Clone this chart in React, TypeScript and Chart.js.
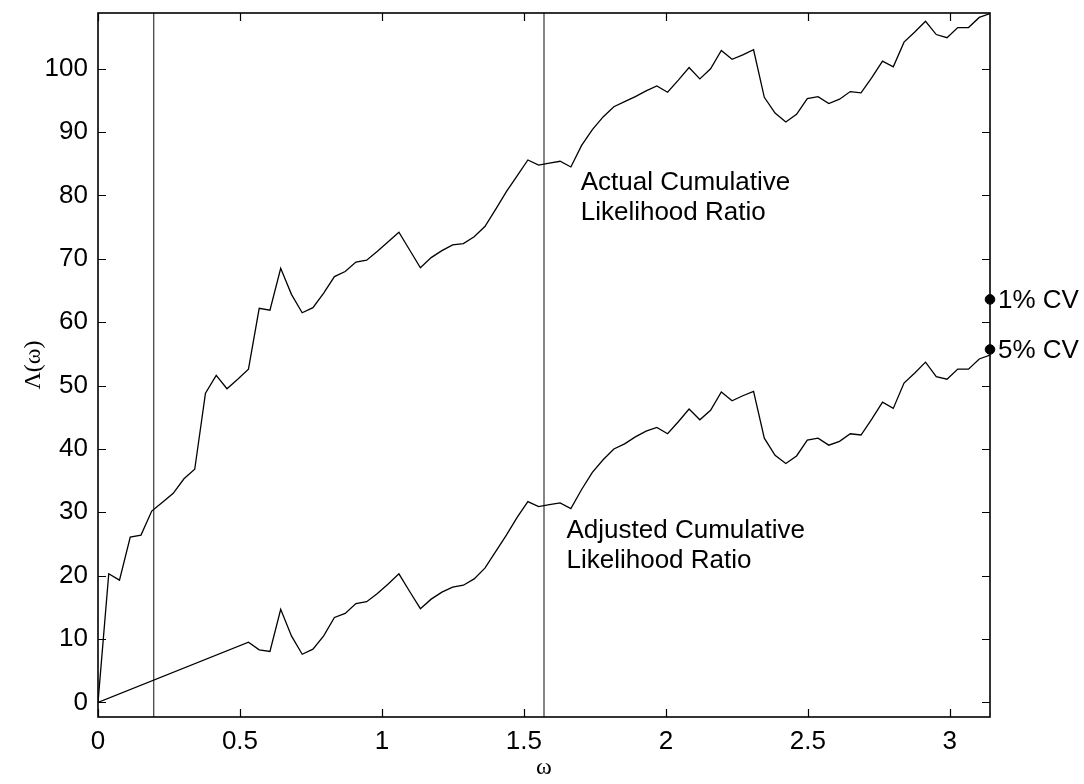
import React, { useEffect, useRef } from "react";
import { Chart, registerables } from "chart.js";

Chart.register(...registerables);

// Frequency grid: omega_k = k * pi / N_STEPS, k = 0..N_STEPS
const N_STEPS = 83;

// Actual cumulative likelihood ratio (k = 0..83)
const actualCLR: number[] = [
  0, 20.3, 19.3, 26.1, 26.4, 30.2, 31.6, 33.0, 35.3, 36.8,
  48.8, 51.6, 49.5, 51.0, 52.6, 62.2, 61.9, 68.5, 64.4, 61.5,
  62.3, 64.6, 67.2, 68.0, 69.5, 69.8, 71.2, 72.7, 74.2, 71.4,
  68.6, 70.2, 71.3, 72.2, 72.4, 73.5, 75.1, 77.8, 80.6, 83.1,
  85.6, 84.8, 85.1, 85.4, 84.5, 87.9, 90.4, 92.4, 94.0, 94.8,
  95.6, 96.5, 97.3, 96.3, 98.2, 100.2, 98.4, 100.0, 102.9, 101.5,
  102.2, 103.0, 95.5, 93.0, 91.6, 92.8, 95.3, 95.6, 94.5, 95.2,
  96.4, 96.2, 98.6, 101.2, 100.3, 104.2, 105.8, 107.5, 105.4, 104.9,
  106.5, 106.5, 108.1, 108.7,
];

// Adjusted cumulative likelihood ratio (k = 0, then k = 14..83)
const adjustedCLR: (number | null)[] = [
  0, null, null, null, null, null, null, null, null, null,
  null, null, null, null, 9.5, 8.3, 8.05, 14.7, 10.5, 7.6,
  8.4, 10.5, 13.4, 14.05, 15.6, 15.9, 17.2, 18.7, 20.3, 17.5,
  14.8, 16.3, 17.4, 18.2, 18.5, 19.5, 21.2, 23.8, 26.4, 29.2,
  31.7, 30.9, 31.2, 31.5, 30.6, 33.6, 36.3, 38.3, 40.0, 40.8,
  41.9, 42.8, 43.4, 42.4, 44.3, 46.3, 44.6, 46.1, 49.0, 47.6,
  48.4, 49.1, 41.7, 39.0, 37.7, 38.9, 41.4, 41.7, 40.6, 41.2,
  42.4, 42.2, 44.7, 47.4, 46.4, 50.4, 52.0, 53.7, 51.4, 51.0,
  52.6, 52.6, 54.2, 54.8,
];

const thresholdLines: number[] = [Math.PI / 16, Math.PI / 2];
const cvValues: number[] = [63.6, 55.7];
const cvLabels: string[] = ["1% CV", "5% CV"];

const xTicks: number[] = [0, 0.5, 1, 1.5, 2, 2.5, 3];
const yTicks: number[] = [0, 10, 20, 30, 40, 50, 60, 70, 80, 90, 100];

const X_MIN = 0;
const X_MAX = Math.PI;
const Y_MIN = -2.3;
const Y_MAX = 108.8;

const annotationLines: string[][] = [
  ["Actual Cumulative", "Likelihood Ratio"],
  ["Adjusted Cumulative", "Likelihood Ratio"],
];
const annotationX: number[] = [1.7, 1.65];
const annotationY: number[] = [80.8, 25.9];

const SANS = '"Liberation Sans", Arial, Helvetica, sans-serif';
const SERIF = '"Liberation Serif", "Times New Roman", serif';

const framePlugin = {
  id: "frameTicks",
  afterDraw(chart: any) {
    const { ctx, chartArea, scales } = chart;
    const { left, right, top, bottom } = chartArea;
    const x = scales.x;
    const y = scales.y;
    ctx.save();
    ctx.strokeStyle = "#000";
    ctx.lineWidth = 1.2;
    ctx.beginPath();
    xTicks.forEach((v) => {
      const px = Math.round(x.getPixelForValue(v)) + 0.5;
      ctx.moveTo(px, bottom);
      ctx.lineTo(px, bottom - 8);
      ctx.moveTo(px, top);
      ctx.lineTo(px, top + 8);
    });
    yTicks.forEach((v) => {
      const py = Math.round(y.getPixelForValue(v)) + 0.5;
      ctx.moveTo(left, py);
      ctx.lineTo(left + 8, py);
      ctx.moveTo(right, py);
      ctx.lineTo(right - 8, py);
    });
    ctx.stroke();
    ctx.lineWidth = 1.6;
    ctx.strokeRect(left, top, right - left, bottom - top);

    ctx.fillStyle = "#000";
    ctx.font = "26px " + SANS;
    ctx.textAlign = "left";
    ctx.textBaseline = "alphabetic";
    annotationLines.forEach((lines, i) => {
      const px = x.getPixelForValue(annotationX[i]);
      const py = y.getPixelForValue(annotationY[i]);
      lines.forEach((t, j) => ctx.fillText(t, px, py + j * 29.5));
    });

    ctx.textBaseline = "middle";
    cvValues.forEach((v, i) => {
      ctx.fillText(cvLabels[i], x.getPixelForValue(X_MAX) + 8, y.getPixelForValue(v) + 1);
    });
    ctx.restore();
  },
};

export default function App() {
  const canvasRef = useRef<HTMLCanvasElement | null>(null);

  useEffect(() => {
    if (!canvasRef.current) return;
    const omega = actualCLR.map((_, k) => (k * Math.PI) / N_STEPS);

    const datasets: any[] = [
      {
        label: "Actual",
        data: actualCLR.map((v, k) => ({ x: omega[k], y: v })),
        borderColor: "#000",
        borderWidth: 1.3,
        pointRadius: 0,
        showLine: true,
        tension: 0,
      },
      {
        label: "Adjusted",
        data: adjustedCLR
          .map((v, k) => ({ x: omega[k], y: v }))
          .filter((p) => p.y !== null),
        borderColor: "#000",
        borderWidth: 1.3,
        pointRadius: 0,
        showLine: true,
        tension: 0,
      },
      ...thresholdLines.map((t) => ({
        label: "threshold",
        data: [
          { x: t, y: Y_MIN },
          { x: t, y: Y_MAX },
        ],
        borderColor: "#222",
        borderWidth: 1.1,
        pointRadius: 0,
        showLine: true,
      })),
      {
        label: "CV",
        data: cvValues.map((v) => ({ x: X_MAX, y: v })),
        showLine: false,
        pointRadius: 4.8,
        pointBackgroundColor: "#000",
        pointBorderColor: "#000",
        clip: false,
      },
    ];

    const chart = new Chart(canvasRef.current, {
      type: "scatter",
      data: { datasets },
      options: {
        animation: false,
        responsive: false,
        maintainAspectRatio: false,
        layout: { padding: { left: 0, top: 13, right: 94, bottom: 0 } },
        plugins: {
          legend: { display: false },
          tooltip: { enabled: false },
        },
        scales: {
          x: {
            type: "linear",
            min: X_MIN,
            max: X_MAX,
            grid: { display: false, drawTicks: false },
            border: { display: false },
            afterBuildTicks: (s: any) => {
              s.ticks = xTicks.map((v) => ({ value: v }));
            },
            afterFit: (s: any) => {
              s.height = 67;
              s.paddingLeft = 0;
              s.paddingRight = 0;
            },
            ticks: {
              color: "#000",
              padding: 9,
              maxRotation: 0,
              autoSkip: false,
              font: { family: SANS, size: 26 },
              callback: (v: any) => String(v),
            },
            title: {
              display: true,
              text: "ω",
              color: "#000",
              font: { family: SERIF, size: 24 },
              padding: { top: 0, bottom: 2 },
            },
          },
          y: {
            type: "linear",
            min: Y_MIN,
            max: Y_MAX,
            grid: { display: false, drawTicks: false },
            border: { display: false },
            afterBuildTicks: (s: any) => {
              s.ticks = yTicks.map((v) => ({ value: v }));
            },
            afterFit: (s: any) => {
              s.width = 98;
              s.paddingTop = 0;
              s.paddingBottom = 0;
            },
            ticks: {
              color: "#000",
              padding: 10,
              autoSkip: false,
              font: { family: SANS, size: 26 },
              callback: (v: any) => String(v),
            },
            title: {
              display: true,
              text: "Λ(ω)",
              color: "#000",
              font: { family: SERIF, size: 24 },
              padding: { top: 19, bottom: 0 },
            },
          },
        },
      },
      plugins: [framePlugin],
    });

    return () => chart.destroy();
  }, []);

  return (
    <div style={{ position: "absolute", left: 0, top: 0, width: 1084, height: 784, background: "#fff" }}>
      <canvas ref={canvasRef} width={1084} height={784} style={{ display: "block" }} />
    </div>
  );
}
